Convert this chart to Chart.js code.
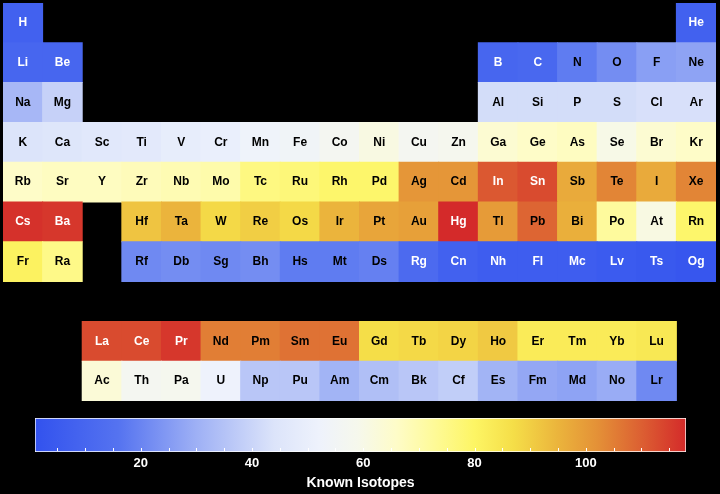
<!DOCTYPE html>
<html>
<head>
<meta charset="utf-8">
<script src="https://cdn.jsdelivr.net/npm/chart.js@4.4.0/dist/chart.umd.min.js"></script>
<style>
  body { margin: 0; background: #000; }
  #tableChart { position: absolute; left: 0; top: 0; }
  #scaleChart { position: absolute; left: 0; top: 404px; }
</style>
</head>
<body>
<canvas id="tableChart" width="720" height="404"></canvas>
<canvas id="scaleChart" width="720" height="90"></canvas>
<script>
// element symbols, in order of atomic number
var symbols = [
  'H', 'He',
  'Li', 'Be', 'B', 'C', 'N', 'O', 'F', 'Ne',
  'Na', 'Mg', 'Al', 'Si', 'P', 'S', 'Cl', 'Ar',
  'K', 'Ca', 'Sc', 'Ti', 'V', 'Cr', 'Mn', 'Fe', 'Co', 'Ni', 'Cu', 'Zn', 'Ga', 'Ge', 'As', 'Se', 'Br', 'Kr',
  'Rb', 'Sr', 'Y', 'Zr', 'Nb', 'Mo', 'Tc', 'Ru', 'Rh', 'Pd', 'Ag', 'Cd', 'In', 'Sn', 'Sb', 'Te', 'I', 'Xe',
  'Cs', 'Ba', 'La', 'Ce', 'Pr', 'Nd', 'Pm', 'Sm', 'Eu', 'Gd', 'Tb', 'Dy', 'Ho', 'Er', 'Tm', 'Yb', 'Lu',
  'Hf', 'Ta', 'W', 'Re', 'Os', 'Ir', 'Pt', 'Au', 'Hg', 'Tl', 'Pb', 'Bi', 'Po', 'At', 'Rn',
  'Fr', 'Ra', 'Ac', 'Th', 'Pa', 'U', 'Np', 'Pu', 'Am', 'Cm', 'Bk', 'Cf', 'Es', 'Fm', 'Md', 'No', 'Lr',
  'Rf', 'Db', 'Sg', 'Bh', 'Hs', 'Mt', 'Ds', 'Rg', 'Cn', 'Nh', 'Fl', 'Mc', 'Lv', 'Ts', 'Og'
];

// known isotopes per element (same order)
var isotopes = [
  8, 8,
  10, 10, 10, 11, 18, 22, 26, 27,
  32, 39, 42, 42, 42, 42, 43, 43,
  44, 45, 46, 47, 49, 50, 53, 54, 57, 61, 57, 58, 64, 66, 67, 60, 64, 66,
  66, 67, 67, 68, 69, 70, 76, 77, 79, 79, 101, 101, 111, 113, 97, 104, 97, 104,
  117, 116, 113, 113, 116, 105, 105, 107, 107, 87, 88, 89, 91, 83, 83, 83, 84,
  92, 95, 88, 90, 88, 95, 98, 99, 118, 100, 109, 96, 72, 61, 79,
  81, 75, 63, 57, 58, 52, 36, 36, 31, 34, 36, 38, 31, 28, 27, 29, 21,
  21, 22, 21, 22, 18, 18, 19, 12, 8, 6, 6, 6, 5, 4, 3
];

var groups = ['1', '2', '3', '4', '5', '6', '7', '8', '9', '10', '11', '12', '13', '14', '15', '16', '17', '18'];
var scaleTicks = [20, 40, 60, 80, 100];
var scaleMin = 1;
var scaleMax = 118;

// colormap: value -> rgb
var colorStops = [
  [1, [50, 82, 238]],
  [16, [85, 115, 240]],
  [30, [158, 176, 245]],
  [44, [220, 228, 250]],
  [52, [238, 242, 252]],
  [59, [246, 248, 236]],
  [66, [254, 252, 200]],
  [73, [254, 250, 150]],
  [80, [253, 245, 100]],
  [87, [245, 222, 72]],
  [95, [235, 180, 60]],
  [102, [228, 145, 55]],
  [110, [220, 95, 50]],
  [118, [212, 42, 42]]
];

function colorFor(v) {
  if (v <= colorStops[0][0]) return 'rgb(' + colorStops[0][1].join(',') + ')';
  for (var i = 1; i < colorStops.length; i++) {
    var a = colorStops[i - 1], b = colorStops[i];
    if (v <= b[0]) {
      var t = (v - a[0]) / (b[0] - a[0]);
      var c = a[1].map(function (ch, k) { return Math.round(ch + (b[1][k] - ch) * t); });
      return 'rgb(' + c.join(',') + ')';
    }
  }
  return 'rgb(' + colorStops[colorStops.length - 1][1].join(',') + ')';
}

// [group, period row] of an element; lanthanides go to row 9, actinides to row 10
function cellOf(z) {
  if (z === 1) return [1, 1];
  if (z === 2) return [18, 1];
  if (z <= 4) return [z - 2, 2];
  if (z <= 10) return [z + 8, 2];
  if (z <= 12) return [z - 10, 3];
  if (z <= 18) return [z, 3];
  if (z <= 36) return [z - 18, 4];
  if (z <= 54) return [z - 36, 5];
  if (z <= 56) return [z - 54, 6];
  if (z <= 71) return [z - 54, 9];
  if (z <= 86) return [z - 68, 6];
  if (z <= 88) return [z - 86, 7];
  if (z <= 103) return [z - 86, 10];
  return [z - 100, 7];
}

var cells = symbols.map(function (s, i) {
  var c = cellOf(i + 1);
  return { x: groups[c[0] - 1], y: [c[1] - 0.5, c[1] + 0.5] };
});

var symbolLabels = {
  id: 'symbolLabels',
  afterDatasetsDraw: function (chart) {
    var ctx = chart.ctx;
    var meta = chart.getDatasetMeta(0);
    ctx.save();
    ctx.font = 'bold 12px "Liberation Sans", Arial, sans-serif';
    ctx.textAlign = 'center';
    ctx.textBaseline = 'middle';
    meta.data.forEach(function (bar, i) {
      var v = isotopes[i];
      ctx.fillStyle = (v < 14 || v > 110) ? '#fff' : '#000';
      ctx.fillText(symbols[i], bar.x, (bar.y + bar.base) / 2);
    });
    ctx.restore();
  }
};

var tableChart = new Chart(document.getElementById('tableChart'), {
  type: 'bar',
  data: {
    labels: groups,
    datasets: [{
      data: cells,
      backgroundColor: function (c) { return colorFor(isotopes[c.dataIndex]); },
      borderWidth: 0,
      barPercentage: 1,
      categoryPercentage: 1,
      inflateAmount: 0.5,
      grouped: false
    }]
  },
  options: {
    responsive: false,
    animation: false,
    layout: { padding: { left: 3, right: 4, top: 3, bottom: 3 } },
    plugins: { legend: { display: false }, tooltip: { enabled: false } },
    scales: {
      x: { display: false },
      y: { display: false, min: 0.5, max: 10.5, reverse: true }
    }
  },
  plugins: [symbolLabels]
});

// colour bar
var minorTicks = [];
for (var t = 5; t < scaleMax; t += 5) minorTicks.push(t);

// small white tick marks along the inside bottom edge of the colour bar
var innerTicks = {
  id: 'innerTicks',
  afterDatasetsDraw: function (chart) {
    var ctx = chart.ctx;
    var x = chart.scales.x;
    var bottom = chart.chartArea.bottom;
    ctx.save();
    ctx.strokeStyle = '#fff';
    ctx.lineWidth = 1;
    ctx.beginPath();
    minorTicks.forEach(function (v) {
      var px = Math.round(x.getPixelForValue(v)) + 0.5;
      ctx.moveTo(px, bottom - 1);
      ctx.lineTo(px, bottom - 4);
    });
    ctx.stroke();
    ctx.restore();
  }
};

var scaleChart = new Chart(document.getElementById('scaleChart'), {
  type: 'bar',
  data: {
    labels: ['Known Isotopes'],
    datasets: [{
      data: [[scaleMin, scaleMax]],
      backgroundColor: function (c) {
        var area = c.chart.chartArea;
        if (!area) return '#888';
        var g = c.chart.ctx.createLinearGradient(area.left, 0, area.right, 0);
        colorStops.forEach(function (s) {
          g.addColorStop((s[0] - scaleMin) / (scaleMax - scaleMin), 'rgb(' + s[1].join(',') + ')');
        });
        return g;
      },
      borderColor: '#fff',
      borderWidth: 1,
      borderSkipped: false,
      barPercentage: 1,
      categoryPercentage: 1
    }]
  },
  options: {
    indexAxis: 'y',
    responsive: false,
    animation: false,
    layout: { padding: { left: 35, right: 34, top: 14, bottom: 2 } },
    plugins: { legend: { display: false }, tooltip: { enabled: false } },
    scales: {
      y: { display: false },
      x: {
        min: scaleMin,
        max: scaleMax,
        afterBuildTicks: function (s) {
          s.ticks = scaleTicks.map(function (v) { return { value: v }; });
        },
        afterFit: function (s) { s.height = 40; },
        ticks: {
          autoSkip: false,
          maxRotation: 0,
          padding: 4,
          color: '#fff',
          font: { family: '"Liberation Sans", Arial, sans-serif', size: 13, weight: 'bold' }
        },
        grid: { display: false, drawTicks: false },
        border: { display: false },
        title: {
          display: true,
          text: 'Known Isotopes',
          color: '#fff',
          font: { family: '"Liberation Sans", Arial, sans-serif', size: 14, weight: 'bold' },
          padding: { top: 0, bottom: 0 }
        }
      }
    }
  },
  plugins: [innerTicks]
});
</script>
</body>
</html>
